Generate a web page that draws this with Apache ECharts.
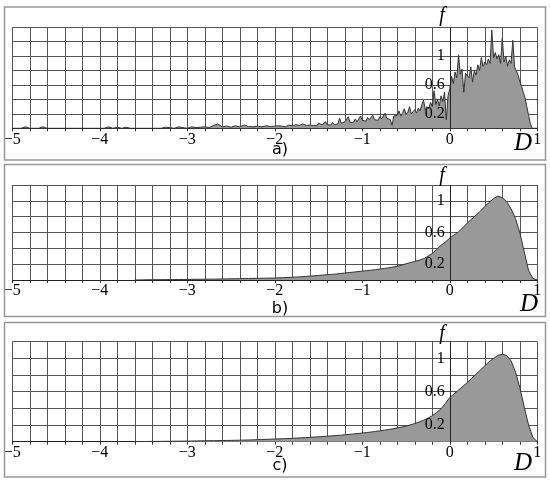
<!DOCTYPE html>
<html>
<head>
<meta charset="utf-8">
<script src="https://cdn.jsdelivr.net/npm/echarts@6/dist/echarts.min.js"></script>
<style>html,body{margin:0;padding:0;background:#fff;}#c{width:550px;height:484px;}</style>
</head>
<body>
<div id="c"></div>
<script>
// X tick labels (integers) and Y tick labels shown
const xTickLabels = [-5, -4, -3, -2, -1, 0, 1];
const yTickLabels = [0.2, 0.6, 1];
const panelLabels = ['a)', 'b)', 'c)'];

// Panel a: sparse left part, D from -5 step 0.05 (to -2.05)
const aLeftStart = -5, aLeftStep = 0.05;
const aLeft = [0,0,0,0.02,0,0,0,0.02,0,0, 0,0,0,0,0,0,0,0,0,0, 0,0,0.02,0,0.015,0,0.015,0,0,0, 0,0,0,0,0,0.015,0.01,0,0.02,0.01, 0,0.02,0.01,0.015,0.02,0.01,0.04,0.06,0.02,0.03, 0.015,0.035,0.02,0.045,0.025,0.02,0.03,0.02,0.035,0.025];
// Panel a: noisy right part, D from -2 step 0.02 (to 1.00)
const aRightStart = -2, aRightStep = 0.02;
const aRight = [
  0.03,0.02,0.035,0.025,0.03,0.04,0.02,0.03,0.045,0.03,
  0.035,0.025,0.05,0.03,0.04,0.03,0.06,0.035,0.04,0.03,
  0.045,0.06,0.04,0.05,0.035,0.07,0.045,0.05,0.04,0.09,
  0.05,0.06,0.045,0.08,0.05,0.07,0.06,0.14,0.07,0.06,
  0.09,0.075,0.16,0.08,0.1,0.085,0.13,0.09,0.1,0.17,
  0.11,0.13,0.1,0.15,0.12,0.11,0.18,0.12,0.14,0.11,
  0.16,0.13,0.12,0.21,0.14,0.15,0.12,0.04,0.17,0.15,
  0.18,0.24,0.17,0.21,0.27,0.19,0.22,0.3,0.2,0.23,
  0.26,0.21,0.28,0.24,0.33,0.39,0.25,0.3,0.27,0.36,
  0.3,0.52,0.33,0.4,0.31,0.45,0.37,0.5,0.12,0.45,
  0.55,0.72,0.62,0.78,0.7,1.02,0.75,0.82,0.5,0.76,
  0.78,0.7,0.85,0.64,0.8,0.74,0.88,0.8,0.98,0.86,
  0.92,0.88,0.96,0.9,1.36,0.98,1.05,0.96,1.02,0.9,
  1.25,0.92,1.0,0.86,0.95,0.9,1.22,0.85,0.8,0.74,
  0.65,0.58,0.5,0.42,0.3,0.18,0.07,0,0,0,
  0];
// Panel b: D from -3.6 step 0.05
const bStart = -3.6, bStep = 0.05;
const bVals = [0,0.001,0.002,0.003,0.003,0.004,0.004,0.005,0.005,0.006,0.006,0.007,0.007,0.008,0.009,0.009,0.01,0.011,0.011,0.012,0.013,0.014,0.015,0.016,0.017,0.018,0.019,0.02,0.021,0.022,0.023,0.024,
  0.025,0.027,0.03,0.032,0.035,0.038,0.041,0.045,0.049,0.053,0.058,0.062,0.067,0.071,0.076,0.082,0.088,0.094,0.1,0.106,0.112,
  0.118,0.124,0.131,0.138,0.146,0.154,0.163,0.173,0.188,0.205,0.22,0.235,0.25,0.27,0.3,0.335,0.385,0.44,0.48,0.53,
  0.57,0.61,0.66,0.72,0.77,0.82,0.87,0.93,0.98,1.03,1.06,1.04,0.99,0.9,0.78,0.6,0.36,0.12,0.02,0];
// Panel c: D from -3.6 step 0.05
const cStart = -3.6, cStep = 0.05;
const cVals = [0,0.001,0.002,0.003,0.003,0.004,0.004,0.005,0.005,0.006,0.006,0.007,0.008,0.008,0.009,0.01,0.011,0.012,0.012,0.013,0.014,0.015,0.016,0.017,0.018,0.019,0.021,0.022,0.024,0.026,0.028,0.03,
  0.032,0.034,0.036,0.038,0.041,0.043,0.046,0.049,0.052,0.055,0.059,0.062,0.066,0.07,0.074,0.078,0.083,0.088,0.093,0.098,0.104,
  0.11,0.116,0.123,0.13,0.138,0.146,0.155,0.165,0.176,0.188,0.202,0.218,0.236,0.257,0.282,0.312,0.35,0.395,0.46,0.53,
  0.575,0.62,0.665,0.71,0.76,0.81,0.86,0.91,0.96,1.0,1.035,1.05,1.035,0.97,0.84,0.65,0.42,0.2,0.05,0];
const yMax = [1.4, 1.2, 1.2];

function pairs(start, step, vals) {
  return vals.map((v, i) => [Math.round((start + i * step) * 1000) / 1000, v]);
}
const aData = pairs(aLeftStart, aLeftStep, aLeft).concat(pairs(aRightStart, aRightStep, aRight));
const bData = pairs(bStart, bStep, bVals);
const cData = pairs(cStart, cStep, cVals);
const datas = [aData, bData, cData];

const serif = 'Liberation Serif';
function fmtX(v) {
  const r = Math.round(v);
  if (Math.abs(v - r) > 1e-6 || xTickLabels.indexOf(r) < 0) return '';
  return r < 0 ? '\u2212' + (-r) : String(r);
}
function fmtY(v) {
  for (const t of yTickLabels) if (Math.abs(v - t) < 1e-6) return String(t);
  return '';
}

const W = 550, gridLeft = 12.3, gridRight = 12.7, xMin = -5, xMax = 1;
const tops = [27.3, 185, 341.7], heights = [101, 95, 100];
// x pixel of D = 0 (where the f labels sit)
const zeroX = gridLeft + (W - gridLeft - gridRight) * (0 - xMin) / (xMax - xMin);

const grids = [], xAxes = [], yAxes = [];
for (let i = 0; i < 3; i++) {
  grids.push({left: gridLeft, right: gridRight, top: tops[i], height: heights[i]});
}
for (let i = 0; i < 3; i++) {
  // label-only grid starting at D = 0
  grids.push({left: zeroX, right: gridRight, top: tops[i], height: heights[i]});
}
for (let i = 0; i < 3; i++) {
  xAxes.push({
    type: 'value', gridIndex: i, min: xMin, max: xMax, interval: 0.2,
    axisLine: {onZero: false, lineStyle: {color: '#222', width: 1}},
    axisTick: {show: true, length: 3, lineStyle: {color: '#333'}},
    axisLabel: {formatter: fmtX, fontFamily: serif, fontSize: 16, color: '#000', margin: 3, showMinLabel: true, showMaxLabel: true},
    splitLine: {show: true, lineStyle: {color: '#555', width: 1}}
  });
  yAxes.push({
    type: 'value', gridIndex: i, min: 0, max: yMax[i], interval: 0.2,
    axisLine: {show: false, onZero: false}, axisTick: {show: false}, axisLabel: {show: false},
    splitLine: {show: true, lineStyle: {color: '#555', width: 1}}
  });
}
for (let i = 0; i < 3; i++) {
  xAxes.push({type: 'value', gridIndex: 3 + i, min: 0, max: xMax, show: false});
  yAxes.push({
    type: 'value', gridIndex: 3 + i, min: 0, max: yMax[i], interval: 0.2, z: 20,
    axisLine: {show: false, onZero: false}, axisTick: {show: false}, splitLine: {show: false},
    axisLabel: {formatter: fmtY, fontFamily: serif, fontSize: 16, color: '#000', margin: 5, hideOverlap: false}
  });
}
const series = datas.map((d, i) => ({
  type: 'line', xAxisIndex: i, yAxisIndex: i, data: d,
  symbol: 'none', showSymbol: false,
  lineStyle: {color: '#333', width: 1},
  areaStyle: {color: '#999999', opacity: 1},
  markLine: {silent: true, symbol: ['none', 'none'], label: {show: false},
    lineStyle: {color: '#222', width: 1, type: 'solid'}, data: [{xAxis: 0}], animation: false},
  animation: false
}));

function txt(text, x, y, font, align) {
  return {type: 'text', silent: true, z: 100,
    style: {text: text, x: x, y: y, font: font, fill: '#000',
      align: align || 'center', verticalAlign: 'middle', textAlign: align || 'center', textVerticalAlign: 'middle'}};
}
function box(y, h) {
  return {type: 'rect', silent: true, z: 100, shape: {x: 4.5, y: y, width: 541, height: h},
    style: {fill: 'none', stroke: '#999', lineWidth: 1.5}};
}
const graphics = [
  box(7, 153), box(164.5, 152), box(322.5, 154.5),
  txt('f', 442, 16, 'italic 20px "Liberation Serif"'),
  txt('f', 442, 176, 'italic 20px "Liberation Serif"'),
  txt('f', 442, 333.5, 'italic 20px "Liberation Serif"'),
  txt('D', 523, 143, 'italic 25px "Liberation Serif"'),
  txt('D', 529, 304, 'italic 25px "Liberation Serif"'),
  txt('D', 523, 463, 'italic 25px "Liberation Serif"'),
  txt(panelLabels[0], 280, 150, '16px "DejaVu Sans"'),
  txt(panelLabels[1], 280, 309, '16px "DejaVu Sans"'),
  txt(panelLabels[2], 280, 466, '16px "DejaVu Sans"')
];

const chart = echarts.init(document.getElementById('c'), null, {renderer: 'canvas'});
chart.setOption({
  animation: false,
  backgroundColor: '#fff',
  grid: grids,
  xAxis: xAxes,
  yAxis: yAxes,
  series: series,
  graphic: graphics
});
</script>
</body>
</html>
